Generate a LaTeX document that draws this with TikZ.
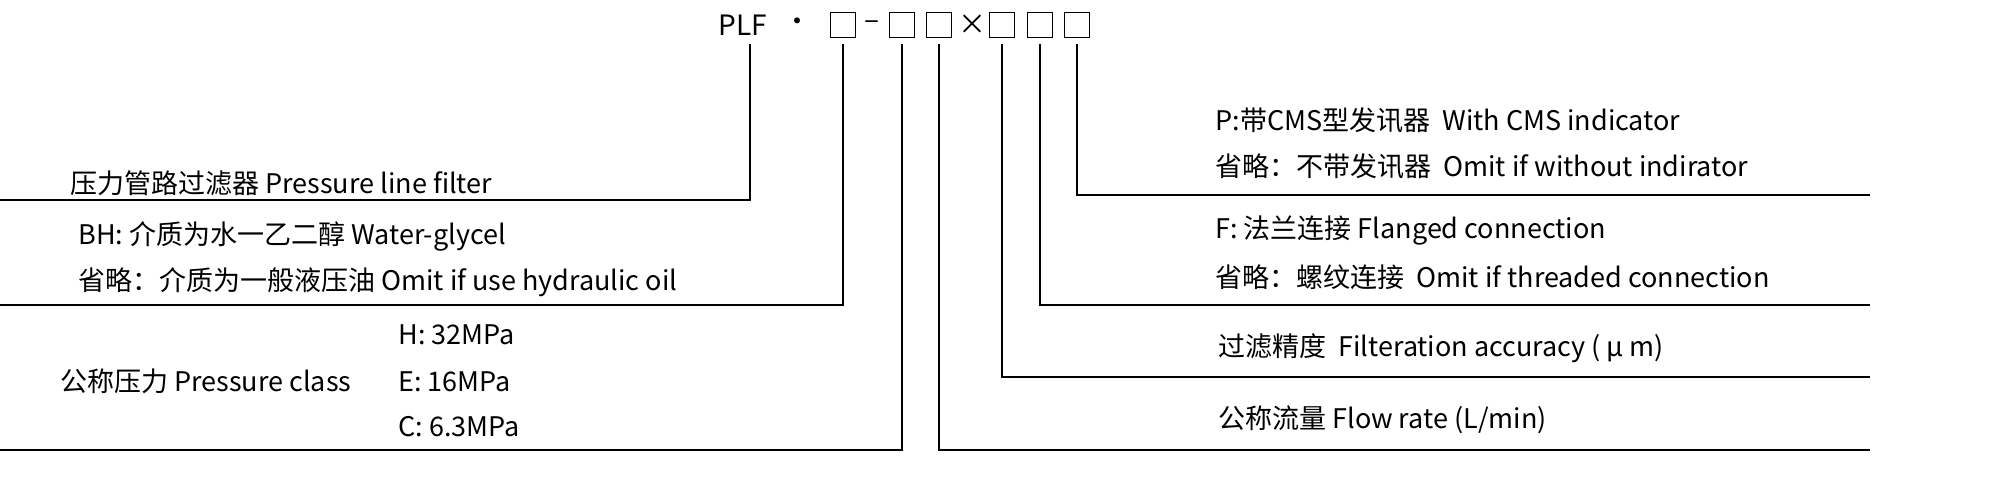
\documentclass[tikz,border=0pt]{standalone}
\usepackage{fontspec}
\setmainfont{Noto Sans CJK SC}
\begin{document}
\begin{tikzpicture}[x=0.5pt,y=-0.5pt,
  lbl/.style={anchor=west,inner sep=0pt,font=\fontsize{13.5}{15}\selectfont},
  ln/.style={line width=1pt},
  bx/.style={draw,line width=0.9pt,minimum size=12.5pt,inner sep=0pt},
  tk/.style={inner sep=0pt,font=\fontsize{14}{15}\selectfont}]
\useasboundingbox (0,0) rectangle (2000,486);
\node[tk] (plf) at (743,25) {PLF};
\node[tk] (dot) at (797,25) {·};
\node[bx] (b1) at (843,25) {};
\node[tk] (dash) at (872,25) {–};
\node[bx] (b2) at (902,25) {};
\node[bx] (b3) at (939,25) {};
\node[tk] (x) at (972,25) {×};
\node[bx] (b4) at (1002,25) {};
\node[bx] (b5) at (1040,25) {};
\node[bx] (b6) at (1077,25) {};
\coordinate (e0) at (0,200);
\coordinate (e1) at (0,305);
\coordinate (e2) at (0,450);
\coordinate (e3) at (1870,450);
\coordinate (e4) at (1870,377);
\coordinate (e5) at (1870,305);
\coordinate (e6) at (1870,195);
\draw[ln] (750,44) |- (e0);
\draw[ln] (b1.south) ++(0,6) |- (e1);
\draw[ln] (b2.south) ++(0,6) |- (e2);
\draw[ln] (b3.south) ++(0,6) |- (e3);
\draw[ln] (b4.south) ++(0,6) |- (e4);
\draw[ln] (b5.south) ++(0,6) |- (e5);
\draw[ln] (b6.south) ++(0,6) |- (e6);
\node[lbl] (t1) at (70,183) {压力管路过滤器 Pressure line filter};
\node[lbl] (t2) at (78,236) {BH: 介质为水一乙二醇 Water-glycel};
\node[lbl] (t3) at (78,282) {省略：介质为一般液压油 Omit if use hydraulic oil};
\node[lbl] (t4) at (60,381) {公称压力 Pressure class};
\node[lbl] (t5) at (398,335) {H: 32MPa};
\node[lbl] (t6) at (398,382) {E: 16MPa};
\node[lbl] (t7) at (398,427) {C: 6.3MPa};
\node[lbl] (r1) at (1215,120) {P:带CMS型发讯器\ \ With CMS indicator};
\node[lbl] (r2) at (1215,166) {省略：不带发讯器\ \ Omit if without indirator};
\node[lbl] (r3) at (1215,231) {F: 法兰连接 Flanged connection};
\node[lbl] (r4) at (1215,277) {省略：螺纹连接\ \ Omit if threaded connection};
\node[lbl] (r5) at (1218,348) {过滤精度\ \ Filteration accuracy ( μ m)};
\node[lbl] (r6) at (1218,420) {公称流量 Flow rate (L/min)};
\end{tikzpicture}
\end{document}
